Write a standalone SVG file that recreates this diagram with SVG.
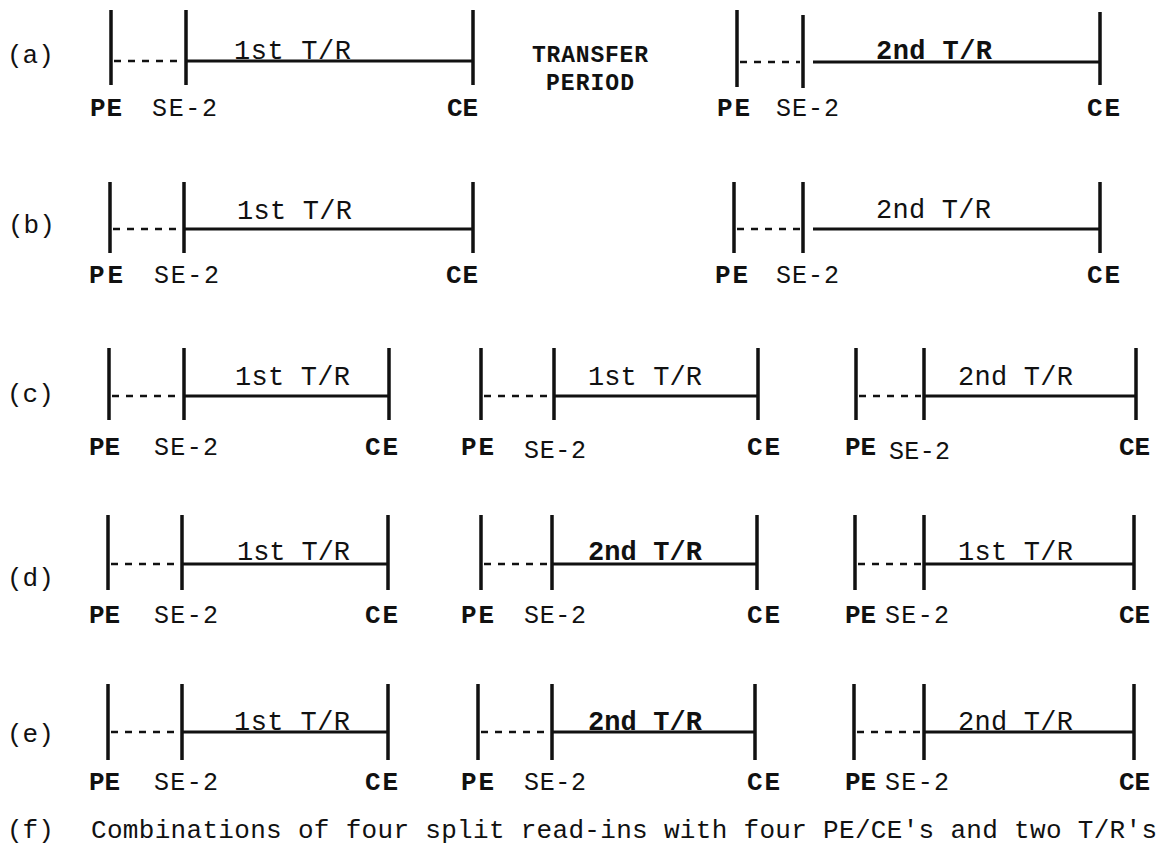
<svg xmlns="http://www.w3.org/2000/svg" width="1162" height="863" viewBox="0 0 1162 863">
<style>
text{font-family:"Liberation Mono","DejaVu Sans Mono",monospace;fill:#111}
.rl{font-size:26px}
.tr{font-size:27px}
.trb{font-size:27px;font-weight:bold}
.pe{font-size:26px;font-weight:bold}
.se{font-size:25px}
.tp{font-size:23px;font-weight:bold}
.f{font-size:26px}
.bar{stroke:#111;stroke-width:3.5;fill:none}
.ln{stroke:#111;stroke-width:3;fill:none}
.ds{stroke:#111;stroke-width:2.5;stroke-dasharray:7 7;fill:none}
</style>
<rect width="1162" height="863" fill="#fff"/>

<g id="row-labels">
<text class="rl" x="7" y="63">(a)</text>
<text class="rl" x="8" y="233">(b)</text>
<text class="rl" x="7" y="402">(c)</text>
<text class="rl" x="7" y="586">(d)</text>
<text class="rl" x="7" y="742">(e)</text>
<text class="rl" x="7" y="838">(f)</text>
</g>

<g id="a-1st">
<path class="bar" d="M111 10V85M186 10V85M473 10V85"/>
<path class="ds" d="M114 61H183"/>
<path class="ln" d="M186 61H473"/>
<text class="tr" x="234" y="59" textLength="117">1st T/R</text>
<text class="pe" x="90" y="116" textLength="32">PE</text>
<text class="se" x="152" y="116" textLength="65">SE-2</text>
<text class="pe" x="447" y="116" textLength="31">CE</text>
</g>

<g id="a-transfer">
<text class="tp" x="590" y="62" text-anchor="middle" textLength="116">TRANSFER</text>
<text class="tp" x="590" y="90" text-anchor="middle" textLength="88">PERIOD</text>
</g>

<g id="a-2nd">
<path class="bar" d="M737 10V87M803 15V88M1100 12V85"/>
<path class="ds" d="M740 62H800"/>
<path class="ln" d="M813 62H1100"/>
<text class="trb" x="876" y="59" textLength="116">2nd T/R</text>
<text class="pe" x="717" y="116" textLength="33">PE</text>
<text class="se" x="776" y="116" textLength="63">SE-2</text>
<text class="pe" x="1087" y="116" textLength="33">CE</text>
</g>

<g id="b-1st">
<path class="bar" d="M110 182V253M184 182V253M473 182V253"/>
<path class="ds" d="M113 229H181"/>
<path class="ln" d="M184 229H473"/>
<text class="tr" x="237" y="219" textLength="115">1st T/R</text>
<text class="pe" x="89" y="283" textLength="34">PE</text>
<text class="se" x="154" y="283" textLength="65">SE-2</text>
<text class="pe" x="446" y="283" textLength="32">CE</text>
</g>

<g id="b-2nd">
<path class="bar" d="M734 182V253M803 182V253M1100 182V253"/>
<path class="ds" d="M737 229H800"/>
<path class="ln" d="M813 229H1100"/>
<text class="tr" x="876" y="218" textLength="115">2nd T/R</text>
<text class="pe" x="715" y="283" textLength="33">PE</text>
<text class="se" x="776" y="283" textLength="63">SE-2</text>
<text class="pe" x="1087" y="283" textLength="33">CE</text>
</g>

<g id="c-1st-a">
<path class="bar" d="M109 348V420M184 348V420M389 348V420"/>
<path class="ds" d="M112 396H181"/>
<path class="ln" d="M184 396H389"/>
<text class="tr" x="235" y="385" textLength="115">1st T/R</text>
<text class="pe" x="89" y="455" textLength="31">PE</text>
<text class="se" x="154" y="455" textLength="64">SE-2</text>
<text class="pe" x="365" y="455" textLength="33">CE</text>
</g>

<g id="c-1st-b">
<path class="bar" d="M481 348V420M554 348V420M758 348V420"/>
<path class="ds" d="M484 396H551"/>
<path class="ln" d="M554 396H758"/>
<text class="tr" x="588" y="385" textLength="114">1st T/R</text>
<text class="pe" x="461" y="455" textLength="33">PE</text>
<text class="se" x="524" y="458" textLength="62">SE-2</text>
<text class="pe" x="747" y="455" textLength="33">CE</text>
</g>

<g id="c-2nd">
<path class="bar" d="M856 348V420M924 348V420M1136 348V420"/>
<path class="ds" d="M859 396H921"/>
<path class="ln" d="M924 396H1136"/>
<text class="tr" x="958" y="385" textLength="115">2nd T/R</text>
<text class="pe" x="845" y="455" textLength="31">PE</text>
<text class="se" x="889" y="459" textLength="61">SE-2</text>
<text class="pe" x="1119" y="455" textLength="31">CE</text>
</g>

<g id="d-1st-a">
<path class="bar" d="M108 515V590M182 515V590M388 515V590"/>
<path class="ds" d="M111 564H179"/>
<path class="ln" d="M182 564H388"/>
<text class="tr" x="237" y="560" textLength="113">1st T/R</text>
<text class="pe" x="89" y="623" textLength="31">PE</text>
<text class="se" x="154" y="623" textLength="64">SE-2</text>
<text class="pe" x="365" y="623" textLength="33">CE</text>
</g>

<g id="d-2nd">
<path class="bar" d="M481 515V590M552 515V590M757 515V590"/>
<path class="ds" d="M484 564H549"/>
<path class="ln" d="M552 564H757"/>
<text class="trb" x="588" y="560" textLength="114">2nd T/R</text>
<text class="pe" x="461" y="623" textLength="33">PE</text>
<text class="se" x="524" y="623" textLength="62">SE-2</text>
<text class="pe" x="747" y="623" textLength="33">CE</text>
</g>

<g id="d-1st-b">
<path class="bar" d="M855 515V590M924 515V590M1134 515V590"/>
<path class="ds" d="M858 564H921"/>
<path class="ln" d="M924 564H1134"/>
<text class="tr" x="958" y="560" textLength="115">1st T/R</text>
<text class="pe" x="845" y="623" textLength="31">PE</text>
<text class="se" x="885" y="623" textLength="64">SE-2</text>
<text class="pe" x="1119" y="623" textLength="31">CE</text>
</g>

<g id="e-1st">
<path class="bar" d="M108 684V760M182 684V760M388 684V760"/>
<path class="ds" d="M111 732H179"/>
<path class="ln" d="M182 732H388"/>
<text class="tr" x="234" y="730" textLength="116">1st T/R</text>
<text class="pe" x="89" y="790" textLength="31">PE</text>
<text class="se" x="154" y="790" textLength="64">SE-2</text>
<text class="pe" x="365" y="790" textLength="33">CE</text>
</g>

<g id="e-2nd-a">
<path class="bar" d="M478 684V760M552 684V760M755 684V760"/>
<path class="ds" d="M481 732H549"/>
<path class="ln" d="M552 732H755"/>
<text class="trb" x="588" y="730" textLength="114">2nd T/R</text>
<text class="pe" x="461" y="790" textLength="33">PE</text>
<text class="se" x="524" y="790" textLength="62">SE-2</text>
<text class="pe" x="747" y="790" textLength="33">CE</text>
</g>

<g id="e-2nd-b">
<path class="bar" d="M854 684V760M924 684V760M1134 684V760"/>
<path class="ds" d="M857 732H921"/>
<path class="ln" d="M924 732H1134"/>
<text class="tr" x="958" y="730" textLength="115">2nd T/R</text>
<text class="pe" x="845" y="790" textLength="31">PE</text>
<text class="se" x="885" y="790" textLength="64">SE-2</text>
<text class="pe" x="1119" y="790" textLength="31">CE</text>
</g>

<g id="caption">
<text class="f" x="91" y="838" textLength="1066">Combinations of four split read-ins with four PE/CE's and two T/R's</text>
</g>
</svg>
